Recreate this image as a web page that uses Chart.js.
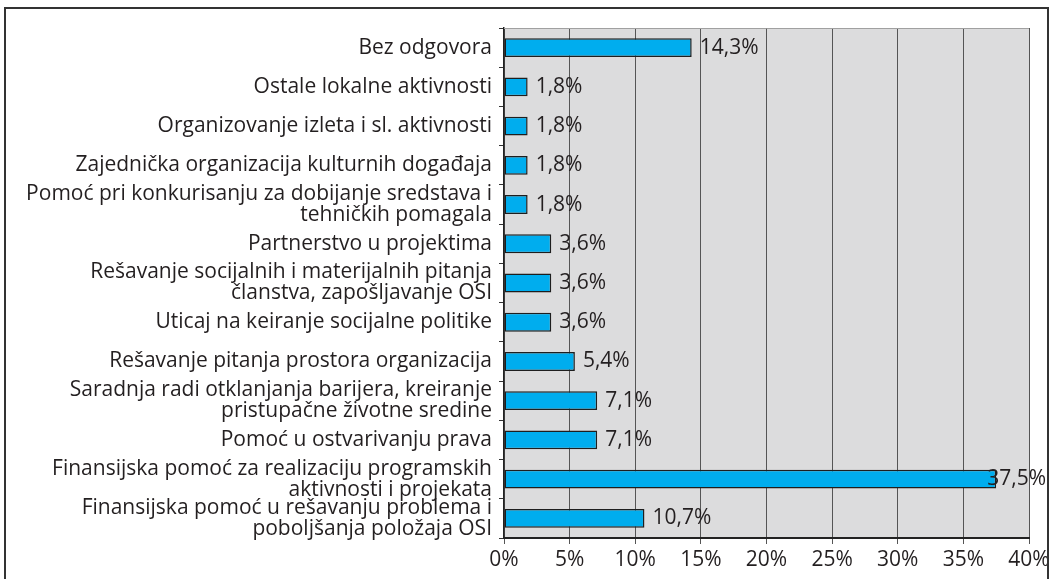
<!DOCTYPE html>
<html>
<head>
<meta charset="utf-8">
<script src="https://cdn.jsdelivr.net/npm/chart.js@4"></script>
<style>
  html, body { margin: 0; padding: 0; background: #fff; }
  #wrap { position: relative; width: 1055px; height: 579px; }
</style>
</head>
<body>
<div id="wrap"><canvas id="chart"></canvas></div>
<script>
const categories = [
  'Bez odgovora',
  'Ostale lokalne aktivnosti',
  'Organizovanje izleta i sl. aktivnosti',
  'Zajednička organizacija kulturnih događaja',
  ['Pomoć pri konkurisanju za dobijanje sredstava i', 'tehničkih pomagala'],
  'Partnerstvo u projektima',
  ['Rešavanje socijalnih i materijalnih pitanja', 'članstva, zapošljavanje OSI'],
  'Uticaj na keiranje socijalne politike',
  'Rešavanje pitanja prostora organizacija',
  ['Saradnja radi otklanjanja barijera, kreiranje', 'pristupačne životne sredine'],
  'Pomoć u ostvarivanju prava',
  ['Finansijska pomoć za realizaciju programskih', 'aktivnosti i projekata'],
  ['Finansijska pomoć u rešavanju problema i', 'poboljšanja položaja OSI'],
];
const percentages = [14.3, 1.8, 1.8, 1.8, 1.8, 3.6, 3.6, 3.6, 5.4, 7.1, 7.1, 37.5, 10.7];
const xMin = 0;
const xMax = 40;
const xStep = 5;

const FONT = "'Open Sans', sans-serif";

// gray plot area + frame around the whole chart
const frame = {
  id: 'frame',
  beforeDraw(chart) {
    const { ctx, chartArea: a } = chart;
    ctx.save();
    ctx.fillStyle = '#dcdcdd';
    ctx.fillRect(a.left, a.top, a.right - a.left, a.bottom - a.top);
    ctx.restore();
  },
  afterDraw(chart) {
    const { ctx, chartArea: a } = chart;
    ctx.save();
    ctx.strokeStyle = '#a0a0a0';
    ctx.lineWidth = 1;
    ctx.beginPath();
    ctx.moveTo(a.left, a.top + 0.5);
    ctx.lineTo(a.right, a.top + 0.5);
    ctx.stroke();
    ctx.strokeStyle = '#333';
    ctx.lineWidth = 2;
    ctx.strokeRect(5, 8, 1043, 620);
    ctx.restore();
  }
};

// value labels right of each bar, kept inside the frame
const valueLabels = {
  id: 'valueLabels',
  afterDatasetsDraw(chart) {
    const { ctx } = chart;
    const meta = chart.getDatasetMeta(0);
    ctx.save();
    ctx.font = '21px ' + FONT;
    ctx.fillStyle = '#231f20';
    ctx.textBaseline = 'middle';
    ctx.textAlign = 'left';
    meta.data.forEach((bar, i) => {
      const txt = percentages[i].toFixed(1).replace('.', ',') + '%';
      const w = ctx.measureText(txt).width;
      const x = Math.min(bar.x + 8, 1046 - w);
      ctx.fillText(txt, x, bar.y);
    });
    ctx.restore();
  }
};

new Chart(document.getElementById('chart'), {
  type: 'bar',
  data: {
    labels: categories,
    datasets: [{
      data: percentages,
      backgroundColor: '#00adee',
      borderColor: '#1e1e1e',
      borderWidth: 1.5,
      borderSkipped: false,
      categoryPercentage: 1,
      barPercentage: 0.48,
    }],
  },
  options: {
    indexAxis: 'y',
    responsive: true,
    maintainAspectRatio: false,
    animation: false,
    layout: { padding: { top: 18, right: 26, left: 0, bottom: 0 } },
    plugins: {
      legend: { display: false },
      tooltip: { enabled: false },
    },
    scales: {
      x: {
        min: xMin,
        max: xMax,
        afterFit(s) { s.height = 41; },
        ticks: {
          stepSize: xStep,
          color: '#231f20',
          font: { family: FONT, size: 21 },
          padding: 3,
          callback: (v) => v + '%',
        },
        grid: { color: '#555', lineWidth: 1, tickLength: 6 },
        border: { color: '#222', width: 2 },
      },
      y: {
        afterFit(s) { s.width = 504; },
        ticks: {
          color: '#231f20',
          font: { family: FONT, size: 21, lineHeight: 1.0 },
          padding: 7,
          autoSkip: false,
        },
        grid: { drawOnChartArea: false, color: '#333', tickLength: 5, offset: true },
        border: { color: '#222', width: 1.5 },
      },
    },
  },
  plugins: [frame, valueLabels],
});
</script>
</body>
</html>
